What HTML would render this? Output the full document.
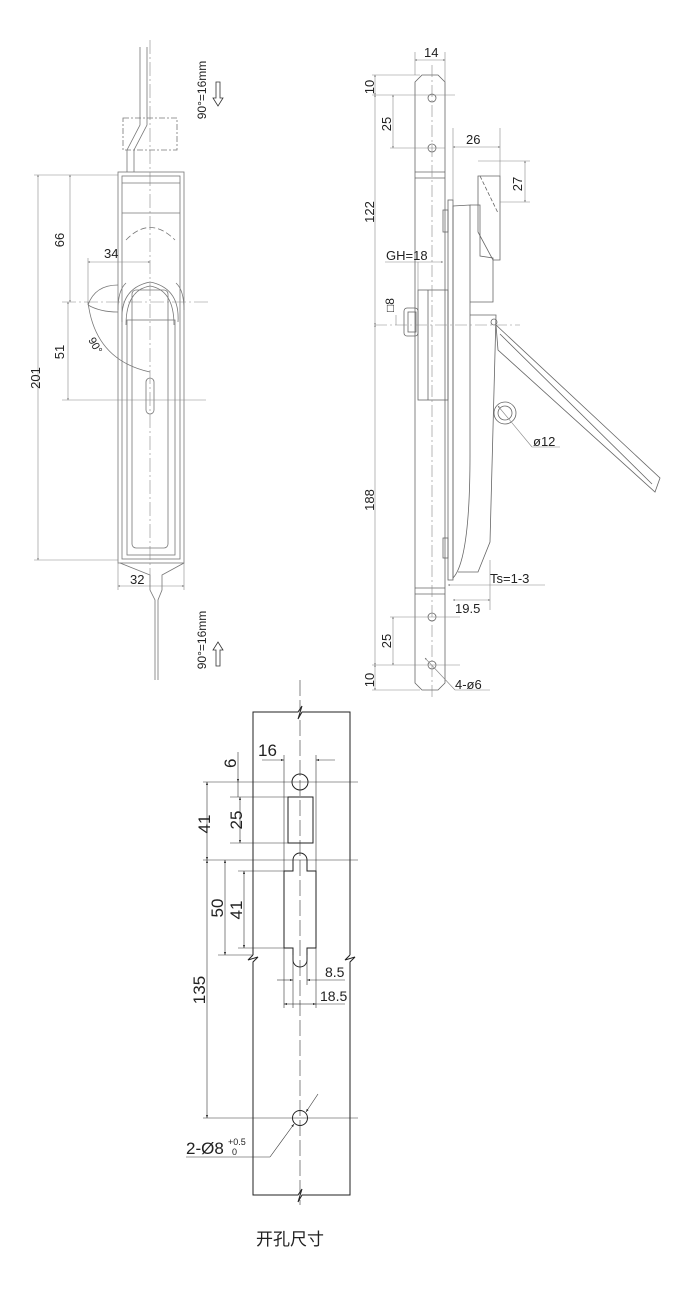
<!DOCTYPE html>
<html><head><meta charset="utf-8"><style>
html,body{margin:0;padding:0;background:#fff;}
svg{display:block;}
text{font-family:"Liberation Sans","Noto Sans CJK SC",sans-serif;fill:#222;}
</style></head><body>
<svg width="676" height="1316" viewBox="0 0 676 1316" xmlns="http://www.w3.org/2000/svg">
<defs>
<marker id="a" viewBox="0 0 10 10" refX="10" refY="5" markerWidth="7" markerHeight="5" orient="auto-start-reverse"><path d="M0,1.5L10,5L0,8.5z" fill="#222"/></marker>
<marker id="s" viewBox="0 0 10 10" refX="10" refY="5" markerWidth="4" markerHeight="3" orient="auto-start-reverse"><path d="M0,1L10,5L0,9z" fill="#555"/></marker>
</defs>

<!-- ===== LEFT VIEW ===== -->
<g stroke="#777" stroke-width="0.8" fill="none">
<path d="M140,47V125L127,150V172M147,47V125L134,150V172"/>
<rect x="123" y="118" width="54" height="32" stroke-dasharray="6 2 2 2"/>
<rect x="118" y="172" width="66" height="391"/>
<rect x="122" y="176" width="58" height="383"/>
<line x1="122" y1="183" x2="180" y2="183"/>
<line x1="122" y1="213" x2="180" y2="213"/>
<path d="M126,240Q150,215 175,240" stroke-dasharray="6 3"/>
<path d="M118,310Q118,290 126,283M184,310Q184,290 176,283"/>
<path d="M122,322Q120,288 150,282Q180,288 178,322"/>
<path d="M126,325Q126,290 150,286Q174,290 174,325"/>
<rect x="132" y="290" width="36" height="258" rx="4"/>
<rect x="127" y="320" width="48" height="235"/>
<rect x="146" y="378" width="8" height="36" rx="4"/>
<path d="M120,563L150,575V590L155,600V680M184,563L162,575V590L158,600V680"/>
<path d="M88,305Q95,285 118,285M88,305Q100,312 118,312"/>
<path d="M88,302Q95,360 150,372"/>
</g>
<g stroke="#888" stroke-width="0.6" fill="none">
<line x1="150" y1="40" x2="150" y2="590" stroke-dasharray="14 3 2 3"/>
<line x1="62" y1="302" x2="210" y2="302" stroke-dasharray="14 3 2 3"/>
<line x1="62" y1="400" x2="206" y2="400"/>
<line x1="34" y1="175" x2="118" y2="175"/>
<line x1="34" y1="560" x2="118" y2="560"/>
<line x1="38" y1="175" x2="38" y2="560" marker-start="url(#s)" marker-end="url(#s)"/>
<line x1="70" y1="175" x2="70" y2="302" marker-start="url(#s)" marker-end="url(#s)"/>
<line x1="68" y1="302" x2="68" y2="400" marker-start="url(#s)" marker-end="url(#s)"/>
<line x1="88" y1="262" x2="150" y2="262" marker-start="url(#s)" marker-end="url(#s)"/>
<line x1="88" y1="258" x2="88" y2="305"/>
<line x1="118" y1="563" x2="118" y2="590"/>
<line x1="184" y1="563" x2="184" y2="590"/>
<line x1="118" y1="586" x2="184" y2="586" marker-start="url(#s)" marker-end="url(#s)"/>
</g>
<g font-size="13">
<text transform="translate(40,378) rotate(-90)" text-anchor="middle">201</text>
<text transform="translate(64,240) rotate(-90)" text-anchor="middle">66</text>
<text transform="translate(64,352) rotate(-90)" text-anchor="middle">51</text>
<text x="104" y="258">34</text>
<text x="130" y="584">32</text>
<text transform="translate(88,340) rotate(60)" font-size="11">90°</text>
<text transform="translate(206,90) rotate(-90)" text-anchor="middle" font-size="12">90°=16mm</text>
<text transform="translate(206,640) rotate(-90)" text-anchor="middle" font-size="12">90°=16mm</text>
</g>
<g stroke="#333" stroke-width="0.8" fill="none">
<path d="M216,82H220V98H223L218,106L213,98H216Z"/>
<path d="M216,666H220V650H223L218,642L213,650H216Z"/>
</g>

<!-- ===== RIGHT VIEW ===== -->
<g stroke="#666" stroke-width="0.8" fill="none">
<path d="M422,75H438L445,82V683L438,690H422L415,683V82Z"/>
<line x1="415" y1="172" x2="445" y2="172"/><line x1="415" y1="178" x2="445" y2="178"/>
<line x1="415" y1="588" x2="445" y2="588"/><line x1="415" y1="594" x2="445" y2="594"/>
<circle cx="432" cy="98" r="4"/><circle cx="432" cy="148" r="4"/>
<circle cx="432" cy="617" r="4"/><circle cx="432" cy="665" r="4"/>
<rect x="448" y="200" width="5" height="380"/>
<rect x="443" y="210" width="5" height="22"/>
<rect x="443" y="538" width="5" height="20"/>
<path d="M453,206L470,205V455Q470,560 453,578Z"/>
<rect x="418" y="290" width="30" height="110"/>
<line x1="428" y1="290" x2="428" y2="400"/>
<rect x="404" y="308" width="14" height="28" rx="3"/>
<rect x="408" y="312" width="8" height="20"/>
<path d="M470,205H480V256L493,258V302L470,302"/>
<path d="M478,176L500,176V260L493,260L478,232Z"/>
<path d="M480,176L498,213" stroke-dasharray="4 2"/>
<path d="M470,315H496L490,542L478,572H458"/>
<path d="M496,325L660,478L655,492L498,350Z"/>
<path d="M500,334L652,484"/>
<circle cx="505" cy="413" r="7"/>
<circle cx="505" cy="413" r="11"/>
<circle cx="494" cy="322" r="3"/>
</g>
<g stroke="#888" stroke-width="0.6" fill="none">
<line x1="432" y1="65" x2="432" y2="700" stroke-dasharray="12 3 2 3"/>
<line x1="375" y1="325" x2="520" y2="325" stroke-dasharray="12 3 2 3"/>
<line x1="415" y1="52" x2="415" y2="75"/><line x1="445" y1="52" x2="445" y2="95"/>
<line x1="415" y1="60" x2="445" y2="60" marker-start="url(#s)" marker-end="url(#s)"/>
<line x1="372" y1="75" x2="420" y2="75"/>
<line x1="372" y1="95" x2="455" y2="95"/>
<line x1="390" y1="148" x2="445" y2="148"/>
<line x1="375" y1="75" x2="375" y2="95" marker-start="url(#s)" marker-end="url(#s)"/>
<line x1="375" y1="95" x2="375" y2="325" marker-start="url(#s)" marker-end="url(#s)"/>
<line x1="393" y1="95" x2="393" y2="148" marker-start="url(#s)" marker-end="url(#s)"/>
<line x1="375" y1="325" x2="375" y2="665" marker-start="url(#s)" marker-end="url(#s)"/>
<line x1="390" y1="617" x2="460" y2="617"/>
<line x1="372" y1="665" x2="460" y2="665"/>
<line x1="372" y1="690" x2="420" y2="690"/>
<line x1="393" y1="617" x2="393" y2="665" marker-start="url(#s)" marker-end="url(#s)"/>
<line x1="375" y1="665" x2="375" y2="690" marker-start="url(#s)" marker-end="url(#s)"/>
<line x1="453" y1="128" x2="453" y2="200"/><line x1="500" y1="128" x2="500" y2="176"/>
<line x1="453" y1="147" x2="500" y2="147" marker-start="url(#s)" marker-end="url(#s)"/>
<line x1="478" y1="161" x2="530" y2="161"/><line x1="500" y1="202" x2="530" y2="202"/>
<line x1="525" y1="161" x2="525" y2="202" marker-start="url(#s)" marker-end="url(#s)"/>
<line x1="385" y1="262" x2="443" y2="262" marker-end="url(#s)"/>
<line x1="418" y1="262" x2="418" y2="290"/>
<line x1="396" y1="315" x2="396" y2="325"/>
<line x1="448" y1="585" x2="545" y2="585" marker-start="url(#s)"/>
<line x1="490" y1="560" x2="490" y2="610"/>
<line x1="453" y1="600" x2="490" y2="600" marker-start="url(#s)" marker-end="url(#s)"/>
<line x1="498" y1="406" x2="532" y2="447" marker-start="url(#s)"/>
<line x1="532" y1="447" x2="560" y2="447"/>
<line x1="425" y1="658" x2="455" y2="690" marker-start="url(#s)"/>
<line x1="455" y1="690" x2="490" y2="690"/>
</g>
<g font-size="13">
<text x="424" y="57">14</text>
<text x="466" y="144">26</text>
<text transform="translate(522,184) rotate(-90)" text-anchor="middle">27</text>
<text transform="translate(374,87) rotate(-90)" text-anchor="middle">10</text>
<text transform="translate(391,124) rotate(-90)" text-anchor="middle">25</text>
<text transform="translate(374,212) rotate(-90)" text-anchor="middle">122</text>
<text transform="translate(374,500) rotate(-90)" text-anchor="middle">188</text>
<text transform="translate(391,641) rotate(-90)" text-anchor="middle">25</text>
<text transform="translate(374,680) rotate(-90)" text-anchor="middle">10</text>
<text x="386" y="260">GH=18</text>
<text transform="translate(394,312) rotate(-90)" font-size="12">□8</text>
<text x="533" y="446">ø12</text>
<text x="490" y="583">Ts=1-3</text>
<text x="455" y="613">19.5</text>
<text x="455" y="689">4-ø6</text>
</g>

<!-- ===== BOTTOM CUTOUT ===== -->
<g stroke="#222" stroke-width="1" fill="none">
<path d="M253,955V712H298L302,706L298,719L302,712H350V955M253,955L248,960L258,957L253,962V1195H298L302,1189L298,1202L302,1195H350V962L355,957L345,960L350,955"/>
<circle cx="300" cy="782" r="8"/>
<rect x="288" y="797" width="25" height="46"/>
<path d="M284,871H293V860A7,7 0 0 1 307,860V871H316V948H307V960A7,7 0 0 1 293,960V948H284Z"/>
<circle cx="300" cy="1118" r="7.5"/>
</g>
<g stroke="#333" stroke-width="0.6" fill="none">
<line x1="300" y1="680" x2="300" y2="1205" stroke-dasharray="16 4"/>
<line x1="203" y1="782" x2="358" y2="782"/>
<line x1="203" y1="860" x2="358" y2="860"/>
<line x1="230" y1="797" x2="288" y2="797"/>
<line x1="230" y1="843" x2="288" y2="843"/>
<line x1="238" y1="871" x2="284" y2="871"/>
<line x1="238" y1="948" x2="284" y2="948"/>
<line x1="218" y1="955" x2="253" y2="955"/>
<line x1="203" y1="1118" x2="358" y2="1118"/>
<line x1="207" y1="782" x2="207" y2="860" marker-start="url(#a)" marker-end="url(#a)"/>
<line x1="240" y1="797" x2="240" y2="843" marker-start="url(#a)" marker-end="url(#a)"/>
<line x1="238" y1="752" x2="238" y2="782" marker-end="url(#a)"/>
<line x1="238" y1="782" x2="238" y2="797"/>
<line x1="284" y1="755" x2="284" y2="871"/><line x1="316" y1="755" x2="316" y2="871"/>
<line x1="262" y1="760" x2="284" y2="760" marker-end="url(#a)"/>
<line x1="335" y1="760" x2="316" y2="760" marker-end="url(#a)"/>
<line x1="207" y1="860" x2="207" y2="1118" marker-start="url(#a)" marker-end="url(#a)"/>
<line x1="225" y1="860" x2="225" y2="955" marker-start="url(#a)" marker-end="url(#a)"/>
<line x1="244" y1="871" x2="244" y2="948" marker-start="url(#a)" marker-end="url(#a)"/>
<line x1="293" y1="955" x2="293" y2="1008"/><line x1="307" y1="955" x2="307" y2="985"/>
<line x1="284" y1="948" x2="284" y2="1008"/><line x1="316" y1="948" x2="316" y2="1008"/>
<line x1="277" y1="980" x2="293" y2="980" marker-end="url(#a)"/>
<line x1="345" y1="980" x2="307" y2="980" marker-end="url(#a)"/>
<line x1="300" y1="1004" x2="284" y2="1004" marker-end="url(#a)"/>
<line x1="300" y1="1004" x2="316" y2="1004" marker-end="url(#a)"/>
<line x1="316" y1="1004" x2="345" y2="1004"/>
<line x1="270" y1="1157" x2="294" y2="1124" marker-end="url(#a)"/>
<line x1="318" y1="1094" x2="306" y2="1112" marker-end="url(#a)"/>
<line x1="186" y1="1157" x2="270" y2="1157"/>
</g>
<g font-size="17">
<text x="258" y="756">16</text>
<text transform="translate(236,768) rotate(-90)">6</text>
<text transform="translate(210,824) rotate(-90)" text-anchor="middle">41</text>
<text transform="translate(242,820) rotate(-90)" text-anchor="middle">25</text>
<text transform="translate(223,908) rotate(-90)" text-anchor="middle">50</text>
<text transform="translate(242,910) rotate(-90)" text-anchor="middle">41</text>
<text transform="translate(205,990) rotate(-90)" text-anchor="middle">135</text>
<text x="325" y="977" font-size="14">8.5</text>
<text x="320" y="1001" font-size="14">18.5</text>
<text x="186" y="1154">2-Ø8</text>
<text x="228" y="1145" font-size="9">+0.5</text>
<text x="232" y="1155" font-size="9">0</text>
<text x="256" y="1245" font-size="17">开孔尺寸</text>
</g>
</svg>
</body></html>
